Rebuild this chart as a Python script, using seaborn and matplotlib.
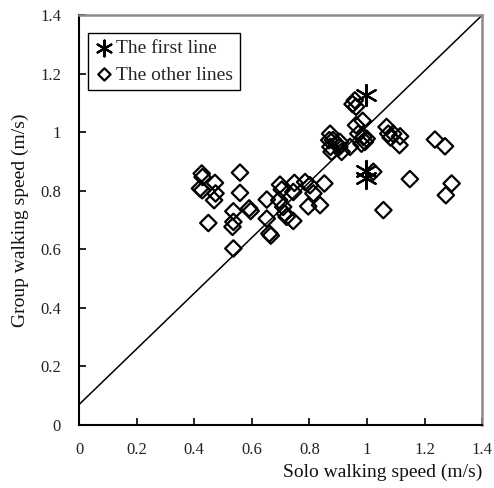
import numpy as np
import pandas as pd
import matplotlib
matplotlib.use("Agg")
import matplotlib.pyplot as plt
import seaborn as sns
from matplotlib.ticker import FuncFormatter

# Solo vs group walking speeds (m/s)
other_solo = [
    0.426, 0.429, 0.420, 0.428, 0.472, 0.474, 0.469, 0.449, 0.536, 0.536,
    0.533, 0.536, 0.559, 0.559, 0.591, 0.596, 0.652, 0.652, 0.661, 0.666,
    0.698, 0.704, 0.695, 0.709, 0.715, 0.721, 0.744, 0.744, 0.748, 0.785,
    0.802, 0.814, 0.796, 0.837, 0.852,
    0.872, 0.869, 0.873, 0.877, 0.882, 0.895, 0.904, 0.912, 0.906, 0.941,
    0.958, 0.950, 0.962, 0.962, 0.985, 0.970, 0.988, 0.993, 0.999, 0.981,
    1.068, 1.074, 1.082, 1.091, 1.115, 1.113, 1.236, 1.271,
    1.022, 1.149, 1.057, 1.274, 1.294,
]
other_group = [
    0.859, 0.847, 0.808, 0.802, 0.827, 0.791, 0.768, 0.690, 0.730, 0.694,
    0.677, 0.603, 0.862, 0.793, 0.740, 0.731, 0.770, 0.705, 0.654, 0.647,
    0.821, 0.804, 0.768, 0.745, 0.722, 0.711, 0.697, 0.796, 0.827, 0.830,
    0.819, 0.791, 0.747, 0.751, 0.825,
    0.995, 0.973, 0.950, 0.933, 0.973, 0.961, 0.950, 0.933, 0.967, 0.950,
    1.109, 1.096, 1.087, 1.024, 1.039, 0.995, 0.984, 0.967, 0.978, 0.961,
    1.018, 0.995, 0.982, 0.995, 0.986, 0.956, 0.975, 0.952,
    0.865, 0.840, 0.734, 0.785, 0.825,
]
first_solo = [0.995, 0.995, 0.998]
first_group = [1.126, 0.868, 0.845]

# reference line
line_x = [0.0, 1.4]
line_y = [0.07, 1.40]

sns.set_style("ticks")
plt.rcParams["font.family"] = ["Liberation Serif", "DejaVu Serif"]

fig = plt.figure(figsize=(4.94, 4.88), dpi=100)
ax = fig.add_axes([0.160, 0.129, 0.816, 0.840])

ax.plot(line_x, line_y, color="black", linewidth=1.1, zorder=1)

sns.scatterplot(x=first_solo, y=first_group, marker=(6, 2, 0), s=230,
                color="black", linewidth=1.6, ax=ax, label="The first line",
                zorder=3)
sns.scatterplot(x=other_solo, y=other_group, marker="D", s=70,
                facecolor="none", edgecolor="black", linewidth=1.6, ax=ax,
                label="The other lines", zorder=2)

ax.set_xlim(0, 1.4)
ax.set_ylim(0, 1.4)
ticks = np.arange(0, 1.41, 0.2)
ax.set_xticks(ticks)
ax.set_yticks(ticks)
fmt = FuncFormatter(lambda v, p: f"{v:g}")
ax.xaxis.set_major_formatter(fmt)
ax.yaxis.set_major_formatter(fmt)
ax.tick_params(direction="in", length=5, width=1.2, labelsize=12,
               colors="black", labelcolor="#222222")
ax.tick_params(axis="x", pad=12)
ax.tick_params(axis="y", pad=13)

for side in ["left", "bottom"]:
    ax.spines[side].set_color("black")
    ax.spines[side].set_linewidth(1.5)
for side in ["top", "right"]:
    ax.spines[side].set_visible(True)
    ax.spines[side].set_color("#8a8a8a")
    ax.spines[side].set_linewidth(1.8)

ax.set_xlabel("Solo walking speed (m/s)", fontsize=14, loc="right",
              labelpad=4, color="#111111")
ax.set_ylabel("Group walking speed (m/s)", fontsize=14, labelpad=8,
              color="#111111")

leg = ax.legend(loc="upper left", bbox_to_anchor=(0.022, 0.957),
                frameon=True, fancybox=False, edgecolor="black",
                fontsize=14, handletextpad=0.1, handlelength=1.0,
                borderpad=0.35, labelspacing=0.45, borderaxespad=0.0,
                markerscale=0.75)
leg.get_frame().set_linewidth(1.0)
leg.get_frame().set_alpha(1)

fig.savefig("out.png", dpi=100)
plt.close(fig)
